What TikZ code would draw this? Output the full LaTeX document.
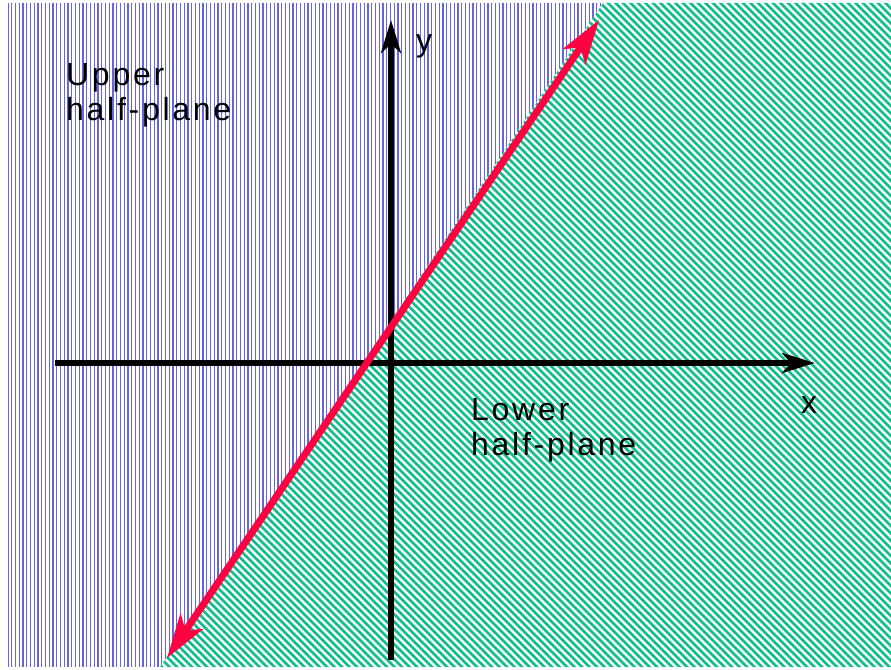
\documentclass[tikz,border=0pt]{standalone}
\usepackage{fontspec}
\newfontfamily\labelfont{Liberation Sans}[LetterSpace=8.5]
\usetikzlibrary{arrows.meta}

\definecolor{hatchblue}{RGB}{100,100,228}
\definecolor{hatchgreen}{RGB}{20,190,140}
\definecolor{boundred}{RGB}{255,0,64}

\begin{document}
\begin{tikzpicture}[x=1pt,y=-1pt,
    axis/.style={line width=5.5pt,-{Stealth[length=33pt,width=20pt,inset=9pt]}},
    boundary/.style={boundred,line width=7pt,{Stealth[length=44pt,width=27pt,inset=11pt]}-{Stealth[length=44pt,width=27pt,inset=11pt]}},
    region/.style={font=\labelfont\fontsize{32}{35}\selectfont,align=left,anchor=base west,inner sep=0pt},
    varlabel/.style={font=\labelfont\fontsize{32}{35}\selectfont,anchor=base west,inner sep=0pt}]
  % rajzterulet
  \fill[white] (0,0) rectangle (891,669);
  \useasboundingbox (0,0) rectangle (891,669);

  % felso felsik (fuggoleges vonalak)
  \begin{scope}
    \clip (8,3) -- (603,3) -- (160,667) -- (8,667) -- cycle;
    \foreach \i in {0,...,160}
      \draw[hatchblue,line width=1.3pt] (8+\i*3.75,3) -- ++(0,664);
  \end{scope}

  % also felsik (ferde vonalak)
  \begin{scope}
    \clip (603,3) -- (891,3) -- (891,667) -- (160,667) -- cycle;
    \foreach \c in {-700,-692.5,...,900}
      \draw[hatchgreen,line width=2.7pt] (\c,0) -- ++(700,700);
  \end{scope}

  % tengelyek
  \coordinate (xl) at (55,363);
  \coordinate (xr) at (815,363);
  \coordinate (yb) at (391,660);
  \coordinate (yt) at (391,20);
  \draw[axis] (xl) -- (xr);
  \draw[axis] (yb) -- (yt);

  % hatarvonal
  \coordinate (lo) at (167,658);
  \coordinate (hi) at (599,20);
  \draw[boundary] (lo) -- (hi);

  % feliratok
  \node[varlabel] (ylab) at (416,52) {y};
  \node[varlabel] (xlab) at (801,413) {x};
  \node[region] (upper) at (66,120) {Upper\\half-plane};
  \node[region] (lower) at (471,455) {Lower\\half-plane};
\end{tikzpicture}
\end{document}
